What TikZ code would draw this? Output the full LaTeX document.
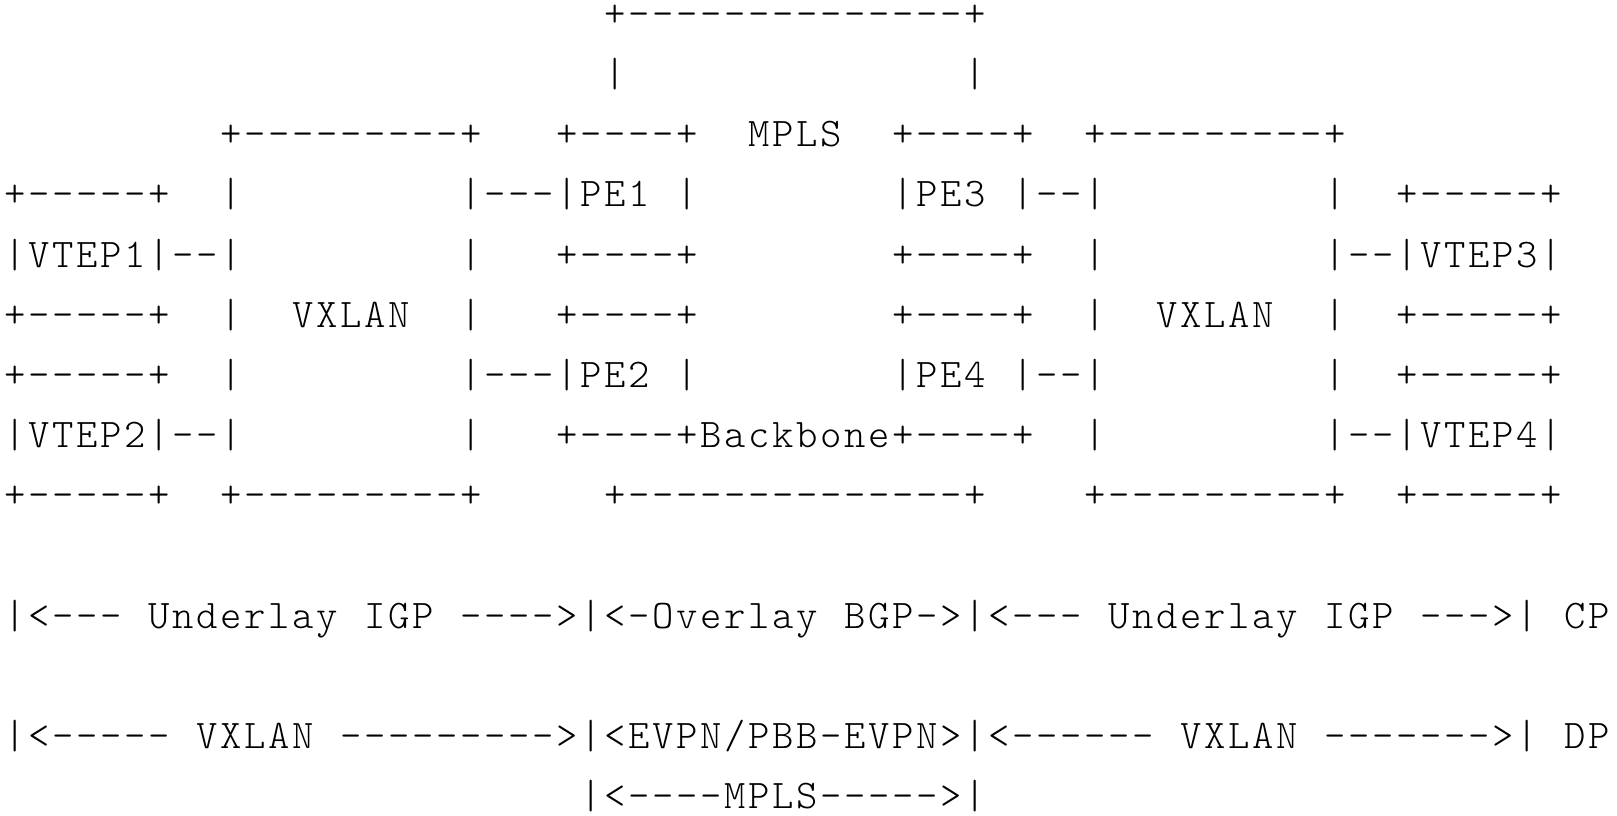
\documentclass[tikz,border=0pt]{standalone}
\usepackage{fontspec}
\setmonofont{Latin Modern Mono Light}[Ligatures=ResetAll]
\ExplSyntaxOn
\NewDocumentCommand\monoline{m}{\tl_map_inline:nn{#1}{\makebox[7.2pt][c]{##1}}}
\ExplSyntaxOff
\begin{document}
\begin{tikzpicture}[x=1pt,y=1pt,
  row/.style={anchor=base west, inner sep=0pt, outer sep=0pt, font=\ttfamily\fontsize{12.2}{12.2}\selectfont}]
\useasboundingbox (0,0) rectangle (485.1,-244.5);
\node[row] (r0)  at (180.9,-7.86)   {\monoline{+--------------+}};
\node[row] (r1)  at (180.9,-25.92)  {\monoline{|~~~~~~~~~~~~~~|}};
\node[row] (r2)  at (65.7,-43.98)   {\monoline{+---------+~~~+----+~~MPLS~~+----+~~+---------+}};
\node[row] (r3)  at (0.9,-62.04)    {\monoline{+-----+~~|~~~~~~~~~|---|PE1~|~~~~~~~~|PE3~|--|~~~~~~~~~|~~+-----+}};
\node[row] (r4)  at (0.9,-80.10)    {\monoline{|VTEP1|--|~~~~~~~~~|~~~+----+~~~~~~~~+----+~~|~~~~~~~~~|--|VTEP3|}};
\node[row] (r5)  at (0.9,-98.16)    {\monoline{+-----+~~|~~VXLAN~~|~~~+----+~~~~~~~~+----+~~|~~VXLAN~~|~~+-----+}};
\node[row] (r6)  at (0.9,-116.22)   {\monoline{+-----+~~|~~~~~~~~~|---|PE2~|~~~~~~~~|PE4~|--|~~~~~~~~~|~~+-----+}};
\node[row] (r7)  at (0.9,-134.28)   {\monoline{|VTEP2|--|~~~~~~~~~|~~~+----+Backbone+----+~~|~~~~~~~~~|--|VTEP4|}};
\node[row] (r8)  at (0.9,-152.34)   {\monoline{+-----+~~+---------+~~~~~+--------------+~~~~+---------+~~+-----+}};
\node[row] (r10) at (0.9,-188.46)   {\monoline{|<---~Underlay~IGP~---->|<-Overlay~BGP->|<---~Underlay~IGP~--->|~CP}};
\node[row] (r12) at (0.9,-224.58)   {\monoline{|<-----~VXLAN~--------->|<EVPN/PBB-EVPN>|<------~VXLAN~------->|~DP}};
\node[row] (r13) at (173.7,-242.64) {\monoline{|<----MPLS----->|}};
\end{tikzpicture}
\end{document}
